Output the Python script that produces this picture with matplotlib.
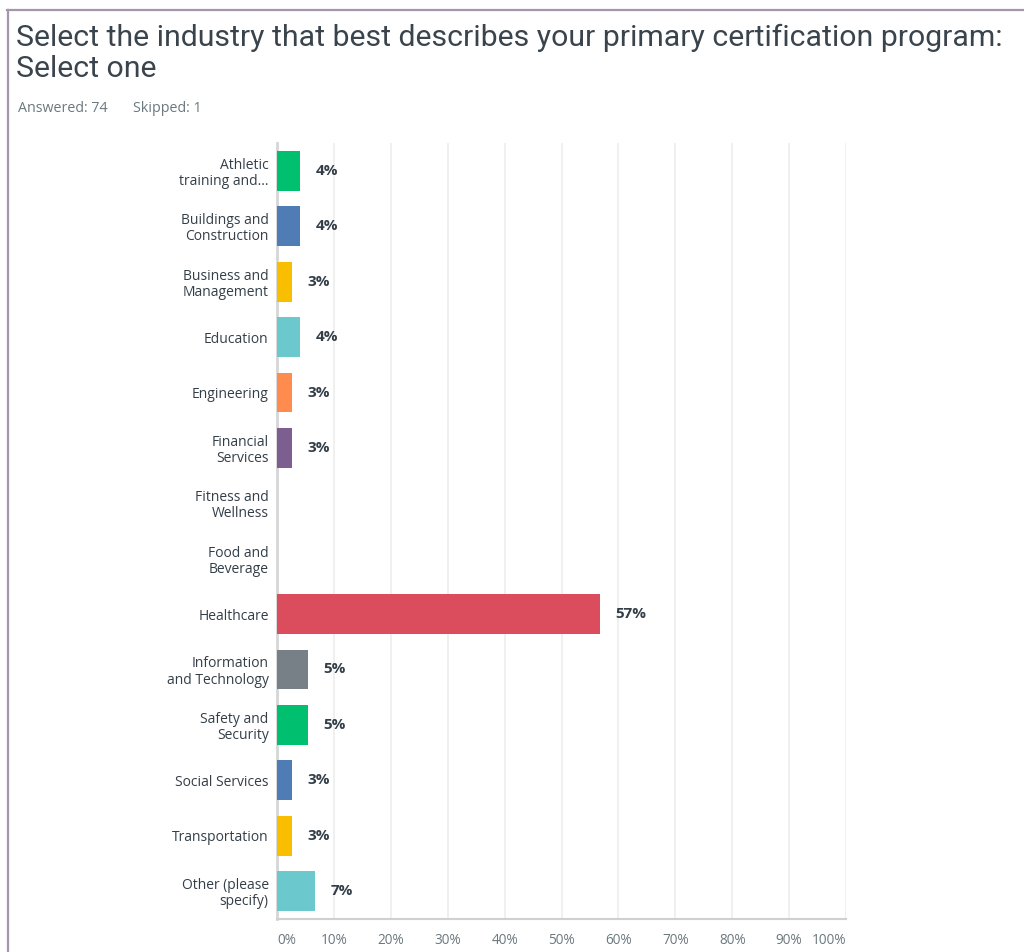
import matplotlib
matplotlib.use("Agg")
import matplotlib.pyplot as plt
from matplotlib.lines import Line2D

# Survey responses (share of 74 respondents, %)
categories = [
    "Athletic\ntraining and...",
    "Buildings and\nConstruction",
    "Business and\nManagement",
    "Education",
    "Engineering",
    "Financial\nServices",
    "Fitness and\nWellness",
    "Food and\nBeverage",
    "Healthcare",
    "Information\nand Technology",
    "Safety and\nSecurity",
    "Social Services",
    "Transportation",
    "Other (please\nspecify)",
]
percentages = [4.05, 4.05, 2.70, 4.05, 2.70, 2.70, 0.0, 0.0,
               56.76, 5.41, 5.41, 2.70, 2.70, 6.76]
palette = ["#00BF6F", "#507CB6", "#F9BE00", "#6BC8CD", "#FF8B4F",
           "#7D5E90", "#D25F90", "#9B6E4C", "#DB4D5C", "#768086"]
x_ticks = [0, 10, 20, 30, 40, 50, 60, 70, 80, 90, 100]
x_tick_labels = [f"{t}%" for t in x_ticks]

title = "Select the industry that best describes your primary certification program:\nSelect one"
answered_text = "Answered: 74"
skipped_text = "Skipped: 1"

TEXT = "#333E48"
MUTED = "#6B787F"
FONT = "Open Sans"

W, H = 1024, 952
fig = plt.figure(figsize=(W / 100, H / 100), dpi=100)
fig.patch.set_facecolor("white")

# panel frame (top and left edges)
frame_col = "#A596AB"
fig.add_artist(Line2D([7.5 / W, 7.5 / W], [0, 1 - 10 / H], transform=fig.transFigure,
                      color=frame_col, lw=1.6))
fig.add_artist(Line2D([7 / W, 1], [1 - 10 / H, 1 - 10 / H], transform=fig.transFigure,
                      color=frame_col, lw=1.6))

title_lines = title.split("\n")
fig.text(16 / W, 1 - 46 / H, title_lines[0], ha="left", va="baseline", fontsize=21.8,
         color="#3A444D", family="Roboto", fontweight="normal")
fig.text(16 / W, 1 - 77 / H, title_lines[1], ha="left", va="baseline", fontsize=21.8,
         color="#3A444D", family="Roboto", fontweight="normal")
fig.text(18 / W, 1 - 108 / H, answered_text, ha="left", va="center",
         fontsize=10.3, color=MUTED, family=FONT)
fig.text(133 / W, 1 - 108 / H, skipped_text, ha="left", va="center",
         fontsize=10.3, color=MUTED, family=FONT)

left, right = 277 / W, 846 / W
top, bottom = 1 - 143.3 / H, 1 - 918.7 / H
ax = fig.add_axes([left, bottom, right - left, top - bottom])

n = len(categories)
ypos = list(range(n))
colors = [palette[i % len(palette)] for i in range(n)]
ax.barh(ypos, percentages, height=0.72, color=colors, zorder=3)

for y, v in zip(ypos, percentages):
    if v > 0:
        ax.annotate(f"{round(v)}%", xy=(v, y), xytext=(11, 0), textcoords="offset points",
                    ha="left", va="center", fontsize=11, fontweight="bold",
                    color=TEXT, family=FONT)

ax.set_xlim(0, 100)
ax.set_ylim(n - 0.5, -0.5)
ax.set_yticks(ypos)
ax.set_yticklabels(categories, fontsize=10, color=TEXT, family=FONT, linespacing=1.1)
ax.set_xticks(x_ticks)
ax.set_xticklabels(x_tick_labels, fontsize=9.8, color=MUTED, family=FONT)
xl = ax.get_xticklabels()
xl[0].set_ha("left")
xl[-1].set_ha("right")
ax.tick_params(axis="y", length=0, pad=6)
ax.tick_params(axis="x", length=0, pad=10)

ax.grid(axis="x", color="#EEEEEE", lw=1.2, zorder=0)
ax.grid(axis="y", visible=False)
for s in ("top", "right"):
    ax.spines[s].set_visible(False)
ax.spines["left"].set_color("#D6D6D6")
ax.spines["left"].set_linewidth(2)
ax.spines["bottom"].set_color("#D0D0D0")
ax.spines["bottom"].set_linewidth(1.5)
ax.set_facecolor("white")

fig.savefig("out.png", dpi=100, facecolor="white")
